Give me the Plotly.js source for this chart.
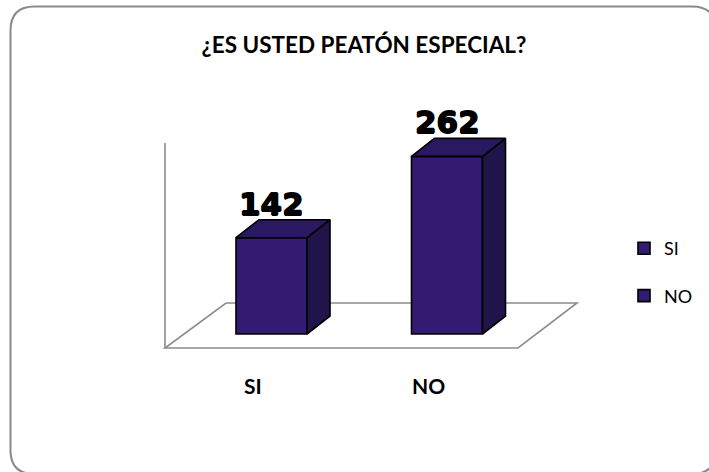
<!DOCTYPE html>
<html><head><meta charset="utf-8">
<script src="https://cdn.plot.ly/plotly-3.0.1.min.js"></script>
<style>html,body{margin:0;padding:0;background:#fff}#chart{width:709px;height:472px}</style>
</head><body><div id="chart"></div>
<script>
// ---- data ----
const chartTitle = '¿ES USTED PEATÓN ESPECIAL?';
const categories = ['SI', 'NO'];
const values = [142, 262];
const legendNames = ['SI', 'NO'];

// ---- styling / geometry ----
const W = 709, H = 472;
const M = {l: 150, r: 109, t: 100, b: 72};
const CAT_PX = 175.5, FIRST_PX = 271.5, ZERO_PX = 334, UNIT_PX = 0.678;
const px2x = p => (p - FIRST_PX) / CAT_PX;
const px2y = p => (ZERO_PX - p) / UNIT_PX;
const BAR_W = 71 / CAT_PX;
const DX = 23 / CAT_PX, DY = 18 / UNIT_PX;
const FRONT = '#331b72', SIDE = '#21144b', TOP = '#2a1960';
const EDGE = {color: '#000', width: 1.6};

const plotW = W - M.l - M.r, plotH = H - M.t - M.b;
const ppx = p => (p - M.l) / plotW;
const ppy = p => 1 - (p - M.t) / plotH;

const traces = [];
categories.forEach((c, i) => {
  traces.push({
    type: 'bar', x: [i], y: [values[i]], width: BAR_W, name: legendNames[i],
    marker: {color: FRONT, line: EDGE}, legendgroup: 'g' + i, hoverinfo: 'skip'
  });
});
categories.forEach((c, i) => {
  const v = values[i], xl = i - BAR_W / 2, xr = i + BAR_W / 2;
  traces.push({
    type: 'scatter', mode: 'lines', fill: 'toself', fillcolor: SIDE, line: EDGE,
    x: [xr, xr + DX, xr + DX, xr, xr], y: [0, DY, v + DY, v, 0],
    showlegend: false, hoverinfo: 'skip'
  });
  traces.push({
    type: 'scatter', mode: 'lines', fill: 'toself', fillcolor: TOP, line: EDGE,
    x: [xl, xr, xr + DX, xl + DX, xl], y: [v, v, v + DY, v + DY, v],
    showlegend: false, hoverinfo: 'skip'
  });
});

const grid = {color: '#8c8c8c', width: 1.6};
const floorPts = [[165, 348], [518, 348], [577, 303], [226, 303]];
const floorPath = floorPts.map((p, k) => (k ? 'L' : 'M') + px2x(p[0]) + ',' + px2y(p[1])).join(' ') + ' Z';

// border (rounded rectangle) in paper coordinates
const bL = 10.5, bT = 6.5, bR = 716, bB = 474, rad = 24;
const bx = ppx, by = ppy;
const borderPath =
  `M${bx(bL + rad)},${by(bT)} L${bx(bR - rad)},${by(bT)} Q${bx(bR)},${by(bT)} ${bx(bR)},${by(bT + rad)} ` +
  `L${bx(bR)},${by(bB - rad)} Q${bx(bR)},${by(bB)} ${bx(bR - rad)},${by(bB)} ` +
  `L${bx(bL + rad)},${by(bB)} Q${bx(bL)},${by(bB)} ${bx(bL)},${by(bB - rad)} ` +
  `L${bx(bL)},${by(bT + rad)} Q${bx(bL)},${by(bT)} ${bx(bL + rad)},${by(bT)} Z`;

const shapes = [
  {type: 'path', xref: 'x', yref: 'y', path: floorPath, line: grid, layer: 'below'},
  {type: 'line', xref: 'x', yref: 'y', x0: px2x(165), x1: px2x(165), y0: px2y(348), y1: px2y(143), line: grid, layer: 'below'},
  {type: 'path', xref: 'paper', yref: 'paper', path: borderPath, line: {color: '#8a8a8a', width: 2}, layer: 'below'}
];

const annotations = [];
categories.forEach((c, i) => {
  annotations.push({
    x: i, y: values[i] + DY, xref: 'x', yref: 'y', text: String(values[i]), showarrow: false,
    xanchor: 'center', yanchor: 'bottom', yshift: -4,
    font: {family: 'DejaVu Sans', size: 31, color: '#000', weight: 'bold',
           shadow: '0.7px 0 0 #000, -0.7px 0 0 #000, 0 0.7px 0 #000, 0 -0.7px 0 #000'}
  });
  annotations.push({
    x: i + px2x(253) , y: px2y(385), xref: 'x', yref: 'y', text: '<b>' + c + '</b>', showarrow: false,
    xanchor: 'center', yanchor: 'middle',
    font: {family: 'Lato', size: 21, color: '#000'}
  });
});

const layout = {
  width: W, height: H, margin: M, paper_bgcolor: '#fff', plot_bgcolor: 'rgba(0,0,0,0)',
  title: {text: '<b>' + chartTitle + '</b>', x: 364 / W, xanchor: 'center', xref: 'container',
          y: 1 - 45 / H, yanchor: 'middle', yref: 'container',
          font: {family: 'Lato', size: 22.5, color: '#000'}},
  barmode: 'overlay', bargap: 0,
  xaxis: {range: [px2x(M.l), px2x(W - M.r)], visible: false, fixedrange: true},
  yaxis: {range: [px2y(H - M.b), px2y(M.t)], visible: false, fixedrange: true},
  showlegend: true,
  legend: {xref: 'container', yref: 'container', x: 624 / W, y: 1 - 230 / H, xanchor: 'left', yanchor: 'top',
           font: {family: 'Lato', size: 18, color: '#000'}, traceorder: 'grouped', tracegroupgap: 21,
           bgcolor: 'rgba(0,0,0,0)'},
  shapes: shapes, annotations: annotations
};

Plotly.newPlot('chart', traces, layout, {staticPlot: true, displayModeBar: false});
</script></body></html>
